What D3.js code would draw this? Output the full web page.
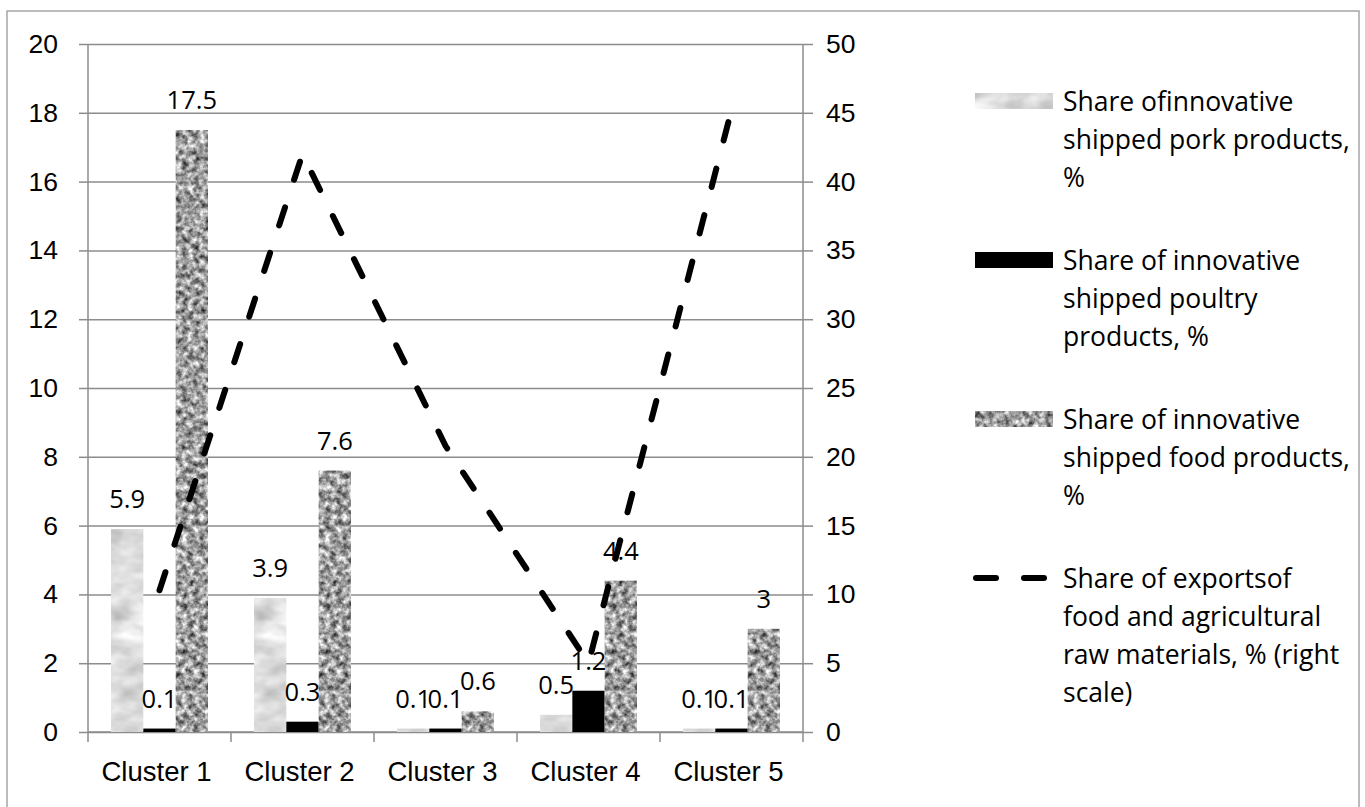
<!DOCTYPE html>
<html lang="en">
<head>
    <meta charset="UTF-8">
    <title>Innovative shipped products by cluster</title>

    <script src="https://d3js.org/d3.v7.min.js"></script>

    <style>
        body { margin: 0; background: #fff; }
        svg { font-family: "Open Sans", sans-serif; }
        .grid line { stroke: #8c8c8c; stroke-width: 1.5px; }
        .grid path { display: none; }
        .axis path, .axis line { stroke: #8c8c8c; stroke-width: 1.5px; }
        .axis text { fill: #000; font-size: 26.5px; }
        .cat text { font-size: 27.5px; }
        .label { font-size: 25.5px; fill: #000; text-anchor: middle; }
        .line {
            fill: none;
            stroke: #000;
            stroke-width: 6px;
            stroke-dasharray: 19 29;
            stroke-linecap: round;
        }
        .legend text { font-size: 26.5px; fill: #000; }
    </style>
</head>
<body>
<div id="chart"></div>
<script>

    // Data
    var clusters = ["Cluster 1", "Cluster 2", "Cluster 3", "Cluster 4", "Cluster 5"];
    var pork     = [5.9, 3.9, 0.1, 0.5, 0.1];
    var poultry  = [0.1, 0.3, 0.1, 1.2, 0.1];
    var food     = [17.5, 7.6, 0.6, 4.4, 3];
    var exports  = [10.3, 42, 20.8, 5, 45.2];   // right scale

    var leftTicks  = [0, 2, 4, 6, 8, 10, 12, 14, 16, 18, 20];
    var rightTicks = [0, 5, 10, 15, 20, 25, 30, 35, 40, 45, 50];

    var legendLabels = [
        ["Share ofinnovative", "shipped pork products,", "%"],
        ["Share of innovative", "shipped poultry", "products, %"],
        ["Share of innovative", "shipped food products,", "%"],
        ["Share of exportsof", "food and agricultural", "raw materials, % (right", "scale)"]
    ];

    var barSeries = [
        {key: "pork", values: pork, filter: "url(#marble)", color: "#dcdcdc"},
        {key: "poultry", values: poultry, filter: null, color: "#000"},
        {key: "food", values: food, filter: "url(#granite)", color: "#9a9a9a"}
    ];

    // Set the dimensions of the canvas / graph
    var margin = {top: 44, right: 562, bottom: 75, left: 88},
        width = 1365 - margin.left - margin.right,
        height = 807 - margin.top - margin.bottom;

    // Set the ranges
    var x0 = d3.scaleBand().domain(clusters).range([0, width]);
    var x1 = d3.scaleBand().domain(barSeries.map(function(s) { return s.key; }))
        .range([x0.bandwidth() * 0.161, x0.bandwidth() * 0.839]);
    var yLeft = d3.scaleLinear().domain([0, 20]).range([height, 0]);
    var yRight = d3.scaleLinear().domain([0, 50]).range([height, 0]);

    var root = d3.select("#chart")
        .append("svg")
        .attr("width", 1365)
        .attr("height", 807);

    // Textures for the bars (light marble and grey granite)
    var defs = root.append("defs");
    var marble = defs.append("filter").attr("id", "marble")
        .attr("x", "0%").attr("y", "0%").attr("width", "100%").attr("height", "100%")
        .attr("color-interpolation-filters", "sRGB");
    marble.append("feTurbulence").attr("type", "fractalNoise")
        .attr("baseFrequency", "0.03 0.05").attr("numOctaves", 3).attr("seed", 4);
    marble.append("feColorMatrix").attr("type", "matrix")
        .attr("values", "0.42 0 0 0 0.65  0.42 0 0 0 0.65  0.42 0 0 0 0.65  0 0 0 0 1");
    marble.append("feComposite").attr("in2", "SourceGraphic").attr("operator", "in");

    var granite = defs.append("filter").attr("id", "granite")
        .attr("x", "0%").attr("y", "0%").attr("width", "100%").attr("height", "100%")
        .attr("color-interpolation-filters", "sRGB");
    granite.append("feTurbulence").attr("type", "fractalNoise")
        .attr("baseFrequency", "0.17").attr("numOctaves", 3).attr("seed", 7);
    granite.append("feColorMatrix").attr("type", "matrix")
        .attr("values", "1.3 0 0 0 -0.03  1.3 0 0 0 -0.03  1.3 0 0 0 -0.03  0 0 0 0 1");
    granite.append("feGaussianBlur").attr("stdDeviation", 0.6);
    granite.append("feComposite").attr("in2", "SourceGraphic").attr("operator", "in");

    // Outer frame
    root.append("rect")
        .attr("x", 7).attr("y", 11)
        .attr("width", 1352).attr("height", 820)
        .attr("fill", "none").attr("stroke", "#a6a6a6").attr("stroke-width", 1.5);

    var svg = root.append("g")
        .attr("transform", "translate(" + margin.left + "," + margin.top + ")");

    // Gridlines
    svg.append("g").attr("class", "grid")
        .call(d3.axisLeft(yLeft).tickValues(leftTicks).tickSize(-width).tickFormat(""));

    // Left axis
    svg.append("g").attr("class", "axis")
        .call(d3.axisLeft(yLeft).tickValues(leftTicks).tickSize(9).tickSizeOuter(0).tickPadding(21))
        .select(".domain").attr("d", "M0,0V" + (height + 10));

    // Right axis
    svg.append("g").attr("class", "axis")
        .attr("transform", "translate(" + width + ",0)")
        .call(d3.axisRight(yRight).tickValues(rightTicks).tickSize(10).tickSizeOuter(0).tickPadding(13))
        .select(".domain").attr("d", "M0,0V" + (height + 10));

    // Category axis, ticks between the categories
    var xAxis = svg.append("g").attr("class", "axis cat")
        .attr("transform", "translate(0," + height + ")")
        .call(d3.axisBottom(x0).tickSize(0).tickPadding(29));
    xAxis.select(".domain").attr("d", "M0,0H" + width);
    xAxis.selectAll(".tick text").attr("dx", -3);
    xAxis.selectAll(".bound")
        .data(clusters.slice(1))
        .enter().append("line")
        .attr("class", "bound")
        .attr("x1", function(d) { return x0(d); })
        .attr("x2", function(d) { return x0(d); })
        .attr("y1", 0).attr("y2", 10);

    // Bars
    var groups = svg.selectAll(".cluster")
        .data(clusters)
        .enter().append("g")
        .attr("class", "cluster")
        .attr("transform", function(d) { return "translate(" + x0(d) + ",0)"; });

    barSeries.forEach(function(s) {
        groups.append("rect")
            .attr("x", x1(s.key))
            .attr("width", x1.bandwidth())
            .attr("y", function(d, i) { return yLeft(s.values[i]); })
            .attr("height", function(d, i) { return height - yLeft(s.values[i]); })
            .attr("fill", s.color)
            .attr("filter", s.filter);
    });

    // Data labels
    barSeries.forEach(function(s) {
        groups.append("text")
            .attr("class", "label")
            .attr("x", x1(s.key) + x1.bandwidth() / 2)
            .attr("y", function(d, i) { return yLeft(s.values[i]) - 21; })
            .text(function(d, i) { return String(s.values[i]); });
    });

    // Export line (right scale)
    var valueline = d3.line()
        .x(function(d, i) { return x0(clusters[i]) + x0.bandwidth() / 2; })
        .y(function(d) { return yRight(d); });

    svg.append("path")
        .attr("class", "line")
        .attr("d", valueline(exports));

    // Legend
    var legend = root.append("g").attr("class", "legend")
        .attr("transform", "translate(975,0)");

    var items = legend.selectAll(".item")
        .data(legendLabels)
        .enter().append("g")
        .attr("class", "item")
        .attr("transform", function(d, i) { return "translate(0," + (101 + i * 159) + ")"; });

    items.each(function(d, i) {
        var g = d3.select(this);
        if (i < 3) {
            g.append("rect")
                .attr("x", 0).attr("y", -8)
                .attr("width", 78).attr("height", 16)
                .attr("fill", barSeries[i].color)
                .attr("filter", barSeries[i].filter);
        } else {
            g.append("line")
                .attr("class", "line")
                .attr("x1", 1).attr("x2", 72)
                .attr("y1", 0).attr("y2", 0)
                .style("stroke-dasharray", "20 28");
        }
        g.selectAll("text")
            .data(d)
            .enter().append("text")
            .attr("x", 88)
            .attr("y", function(t, j) { return 10 + j * 38; })
            .text(function(t) { return t; });
    });

</script>

</body>
</html>
